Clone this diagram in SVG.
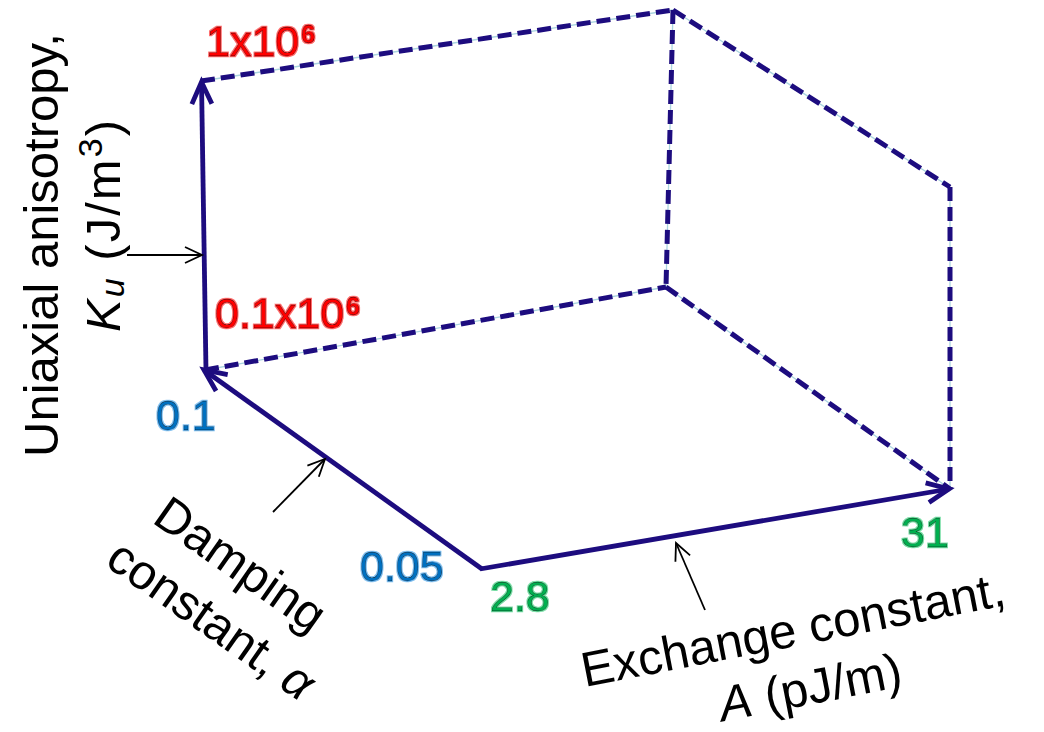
<svg xmlns="http://www.w3.org/2000/svg" width="1044" height="732" viewBox="0 0 1044 732">
<style>
.axis{stroke:#1d0c7f;stroke-width:4.8;fill:none;stroke-linecap:butt}
.guide{stroke:#a9d3df;stroke-width:1.3;fill:none}
.dash{stroke:#1d0c7f;stroke-width:5;fill:none;stroke-dasharray:14 6}
.pointer{stroke:#000;stroke-width:1.8;fill:none}
.title{font-family:"Liberation Sans",Arial,sans-serif;font-size:49px;fill:#000}
.num{font-family:"Liberation Sans",Arial,sans-serif;font-size:43px;stroke:#000;stroke-width:0.3}
.sup{font-size:25px;font-weight:bold}
.red{fill:#ff0000;filter:url(#glowRed)}
.blue{fill:#0070c0;filter:url(#glowBlue)}
.green{fill:#00b050;filter:url(#glowGreen)}
</style>
<defs>
<marker id="axHead" markerUnits="userSpaceOnUse" viewBox="-30 -15 40 30" markerWidth="40" markerHeight="30" refX="0" refY="0" orient="auto" overflow="visible">
<path d="M-22,-10 L0,0 L-22,10" fill="none" stroke="#1d0c7f" stroke-width="4.8" stroke-linejoin="miter"/>
</marker>
<marker id="thinHead" markerUnits="userSpaceOnUse" viewBox="-20 -10 24 20" markerWidth="24" markerHeight="20" refX="0" refY="0" orient="auto" overflow="visible">
<path d="M-17,-8 L0,0 L-17,8" fill="none" stroke="#000" stroke-width="1.8"/>
</marker>
<filter id="glowRed" x="-10%" y="-20%" width="120%" height="140%">
<feMorphology in="SourceAlpha" operator="dilate" radius="0.9" result="d"/>
<feFlood flood-color="#ff2020" flood-opacity="0.7"/>
<feComposite in2="d" operator="in" result="g"/>
<feGaussianBlur in="g" stdDeviation="0.4" result="gb"/>
<feMerge><feMergeNode in="gb"/><feMergeNode in="SourceGraphic"/></feMerge>
</filter>
<filter id="glowBlue" x="-10%" y="-20%" width="120%" height="140%">
<feMorphology in="SourceAlpha" operator="dilate" radius="0.9" result="d"/>
<feFlood flood-color="#3f9ee6" flood-opacity="0.7"/>
<feComposite in2="d" operator="in" result="g"/>
<feGaussianBlur in="g" stdDeviation="0.4" result="gb"/>
<feMerge><feMergeNode in="gb"/><feMergeNode in="SourceGraphic"/></feMerge>
</filter>
<filter id="glowGreen" x="-10%" y="-20%" width="120%" height="140%">
<feMorphology in="SourceAlpha" operator="dilate" radius="0.9" result="d"/>
<feFlood flood-color="#33cc77" flood-opacity="0.7"/>
<feComposite in2="d" operator="in" result="g"/>
<feGaussianBlur in="g" stdDeviation="0.4" result="gb"/>
<feMerge><feMergeNode in="gb"/><feMergeNode in="SourceGraphic"/></feMerge>
</filter>
</defs>
<rect width="1044" height="732" fill="#fff"/>
<g id="connectors">
<g id="box-guides">
<line class="guide" x1="201" y1="81" x2="673" y2="10"/>
<line class="guide" x1="673" y1="10" x2="666" y2="287"/>
<line class="guide" x1="673" y1="10" x2="950" y2="187"/>
<line class="guide" x1="950" y1="187" x2="950" y2="489"/>
<line class="guide" x1="666" y1="287" x2="950" y2="489"/>
<line class="guide" x1="205" y1="370" x2="666" y2="287"/>
</g>
<g id="box-dashed">
<line class="dash" x1="201" y1="81" x2="673" y2="10"/>
<line class="dash" x1="673" y1="10" x2="666" y2="287"/>
<line class="dash" x1="673" y1="10" x2="950" y2="187"/>
<line class="dash" x1="950" y1="187" x2="950" y2="489"/>
<line class="dash" x1="666" y1="287" x2="950" y2="489"/>
<line class="dash" x1="205" y1="370" x2="666" y2="287"/>
</g>
<g id="axes">
<line class="axis" x1="206" y1="371" x2="201.5" y2="82" marker-end="url(#axHead)"/>
<line class="axis" x1="482" y1="569" x2="204" y2="370" marker-end="url(#axHead)"/>
<line class="axis" x1="480" y1="569" x2="949" y2="489" marker-end="url(#axHead)"/>
</g>
<g id="pointers">
<line class="pointer" x1="127" y1="255" x2="202" y2="255" marker-end="url(#thinHead)"/>
<line class="pointer" x1="273" y1="512" x2="325" y2="459" marker-end="url(#thinHead)"/>
<line class="pointer" x1="705" y1="610" x2="676" y2="543" marker-end="url(#thinHead)"/>
</g>
</g>
<g id="label-ku-axis">
<text class="title" transform="translate(58,457) rotate(-90)">Uniaxial anisotropy,</text>
<text class="title" transform="translate(120,332) rotate(-90)" textLength="212" lengthAdjust="spacing"><tspan font-style="italic">K</tspan><tspan font-style="italic" font-size="34" dy="4">u</tspan><tspan dy="-4"> (J/m</tspan><tspan font-size="34" dy="-18">3</tspan><tspan dy="18">)</tspan></text>
</g>
<g id="label-damping-axis" transform="translate(231,578) rotate(35)">
<text class="title" x="0" y="0" text-anchor="middle">Damping</text>
<text class="title" x="8" y="62" text-anchor="middle">constant, <tspan font-style="italic">α</tspan></text>
</g>
<g id="label-exchange-axis" transform="translate(796,646) rotate(-11)">
<text class="title" x="0" y="0" text-anchor="middle">Exchange constant,</text>
<text class="title" x="6" y="60" text-anchor="middle"><tspan font-style="italic">A</tspan> (pJ/m)</text>
</g>
<g id="tick-ku-max"><text class="num red" x="206" y="56">1x10<tspan class="sup" dx="2" dy="-13">6</tspan></text></g>
<g id="tick-ku-min"><text class="num red" x="215" y="328">0.1x10<tspan class="sup" dx="2" dy="-13">6</tspan></text></g>
<g id="tick-alpha-max"><text class="num blue" x="156" y="430">0.1</text></g>
<g id="tick-alpha-min"><text class="num blue" x="360" y="581">0.05</text></g>
<g id="tick-a-min"><text class="num green" x="490" y="611">2.8</text></g>
<g id="tick-a-max"><text class="num green" x="901" y="547">31</text></g>
</svg>
